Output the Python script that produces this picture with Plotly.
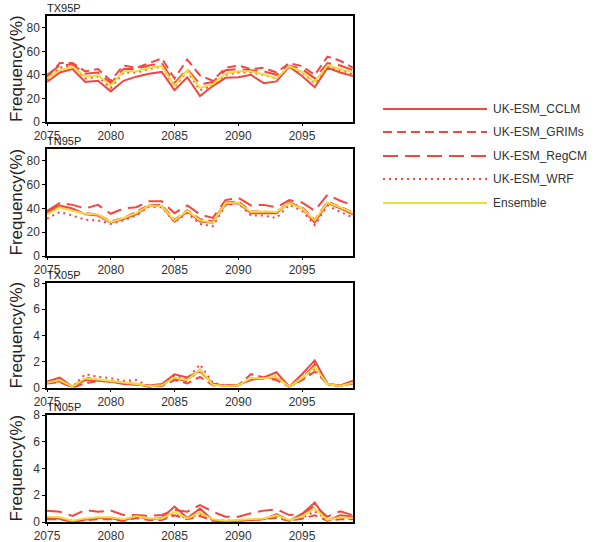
import plotly.graph_objects as go

years = list(range(2075, 2100))
series_names = ["UK-ESM_CCLM", "UK-ESM_GRIMs", "UK-ESM_RegCM", "UK-ESM_WRF", "Ensemble"]
panel_titles = ["TX95P", "TN95P", "TX05P", "TN05P"]
y_title = "Frequency(%)"

# TX95P
tx95_cclm = [34, 42, 45, 34, 35, 26, 35, 38.5, 41, 42.5, 27, 38, 22, 30.5, 37.5, 38, 40, 33, 34.5, 47, 39, 29.5, 46, 42, 39]
tx95_grims = [38, 50, 50, 43, 45, 35, 48, 46, 50, 54, 37, 53, 39.5, 35, 46, 48, 45, 46, 42, 50, 47.5, 40, 55.5, 52, 46]
tx95_regcm = [40, 48, 49, 41, 42, 33, 45, 45, 48, 50, 33, 45, 32, 34, 44, 45, 44, 43, 40, 48, 45, 37, 50, 48, 44]
tx95_wrf = [36, 46, 48, 37, 38.5, 29, 42, 42, 45, 47, 30, 43, 27, 31, 40, 42, 42, 40, 37, 47, 42, 33, 47, 44, 41]
tx95_ens = [37, 44, 47, 38.5, 39.5, 31, 43, 43, 46, 47.5, 31, 44, 29, 32, 41, 43, 43, 40.5, 37, 47.5, 42.5, 34, 48, 45, 42]

# TN95P
tn95_cclm = [37, 42.5, 40, 35, 34, 28, 31, 35, 42.5, 42, 29, 37.5, 29, 28, 43.5, 44.5, 36, 36, 36, 45, 40, 28, 44.5, 40, 35]
tn95_grims = [36, 41.5, 38.5, 36, 35, 29, 32, 37, 43, 43, 30.5, 38.5, 31, 29, 45, 46, 37.5, 37.5, 37, 45, 41, 30.5, 45.5, 41.5, 36.5]
tn95_regcm = [38, 44.5, 43, 40, 43, 35.5, 40, 41, 46, 46, 36, 42.5, 35, 32, 47, 49, 42.5, 43, 41, 47, 45, 38, 51.5, 46.5, 42.5]
tn95_wrf = [31.5, 37, 34, 30.5, 30, 27, 30, 34, 41.5, 41, 28.5, 36, 27, 25, 42.5, 44.5, 34, 34, 32, 43, 38, 26, 42.5, 37, 32.5]
tn95_ens = [35, 41, 38, 35.5, 35, 28.5, 32, 36, 42.5, 42, 30, 38, 30, 28, 44.5, 45, 37, 37.5, 37, 44.5, 40, 30, 45, 41, 36]

# TX05P
tx05_cclm = [0.5, 0.8, 0.1, 0.6, 0.55, 0.5, 0.3, 0.25, 0.2, 0.3, 1.05, 0.8, 1.3, 0.3, 0.2, 0.25, 0.6, 0.8, 1.2, 0.1, 1.05, 2.1, 0.3, 0.2, 0.55]
tx05_grims = [0.35, 0.45, 0.05, 0.35, 0.55, 0.5, 0.4, 0.3, 0.1, 0.15, 0.6, 0.35, 0.85, 0.2, 0.15, 0.2, 1.05, 0.8, 0.6, 0.1, 0.6, 1.25, 0.35, 0.15, 0.35]
tx05_regcm = [0.45, 0.5, 0.1, 0.8, 0.6, 0.5, 0.35, 0.3, 0.15, 0.2, 0.75, 0.5, 1.4, 0.3, 0.15, 0.2, 0.7, 0.7, 0.8, 0.1, 0.7, 1.8, 0.3, 0.15, 0.45]
tx05_wrf = [0.4, 0.65, 0.1, 1.05, 0.85, 0.75, 0.55, 0.6, 0.15, 0.2, 0.9, 0.7, 1.8, 0.4, 0.2, 0.2, 0.7, 0.7, 0.9, 0.1, 0.7, 1.5, 0.25, 0.15, 0.4]
tx05_ens = [0.4, 0.6, 0.1, 0.75, 0.65, 0.55, 0.4, 0.3, 0.15, 0.2, 0.8, 0.6, 1.4, 0.25, 0.15, 0.2, 0.75, 0.75, 0.85, 0.1, 0.75, 1.6, 0.3, 0.15, 0.4]

# TN05P
tn05_cclm = [0.3, 0.25, 0.05, 0.2, 0.3, 0.3, 0.1, 0.45, 0.2, 0.3, 1.15, 0.3, 1.0, 0.15, 0.05, 0.1, 0.15, 0.2, 0.6, 0.1, 0.6, 1.45, 0.1, 0.5, 0.4]
tn05_grims = [0.2, 0.2, 0.05, 0.15, 0.2, 0.2, 0.1, 0.3, 0.15, 0.15, 0.5, 0.2, 0.45, 0.1, 0.05, 0.1, 0.15, 0.2, 0.3, 0.1, 0.25, 0.5, 0.1, 0.2, 0.2]
tn05_regcm = [0.85, 0.77, 0.45, 0.9, 0.77, 0.85, 0.52, 0.52, 0.45, 0.52, 0.9, 0.77, 1.27, 0.77, 0.4, 0.4, 0.65, 0.85, 0.95, 0.52, 0.6, 1.2, 0.4, 0.8, 0.5]
tn05_wrf = [0.3, 0.3, 0.1, 0.25, 0.3, 0.3, 0.2, 0.4, 0.25, 0.2, 0.6, 0.25, 0.6, 0.15, 0.1, 0.1, 0.15, 0.2, 0.4, 0.1, 0.3, 0.8, 0.15, 0.3, 0.25]
tn05_ens = [0.4, 0.35, 0.1, 0.27, 0.35, 0.35, 0.2, 0.45, 0.27, 0.27, 0.75, 0.27, 0.7, 0.2, 0.1, 0.15, 0.2, 0.27, 0.5, 0.15, 0.4, 1.0, 0.15, 0.35, 0.3]

x_ticks = [2075, 2080, 2085, 2090, 2095]
y_ranges = [[0, 90], [0, 90], [0, 8], [0, 8]]
y_ticks = [[0, 20, 40, 60, 80], [0, 20, 40, 60, 80], [0, 2, 4, 6, 8], [0, 2, 4, 6, 8]]

panels = [
    [tx95_cclm, tx95_grims, tx95_regcm, tx95_wrf, tx95_ens],
    [tn95_cclm, tn95_grims, tn95_regcm, tn95_wrf, tn95_ens],
    [tx05_cclm, tx05_grims, tx05_regcm, tx05_wrf, tx05_ens],
    [tn05_cclm, tn05_grims, tn05_regcm, tn05_wrf, tn05_ens],
]

RED = "#F24641"
YEL = "#F2DC3A"
styles = [
    dict(color=RED, width=2, dash="solid"),
    dict(color=RED, width=2, dash="9px,5px"),
    dict(color=RED, width=2, dash="15px,7px"),
    dict(color=RED, width=2, dash="2px,4px"),
    dict(color=YEL, width=2, dash="solid"),
]

W, H = 598, 542
ml, mt = 47, 16
plot_right, plot_bottom = 353, 522
mr, mb = W - plot_right, H - plot_bottom
ph = H - mt - mb
pw = W - ml - mr
def py(px):
    return (plot_bottom - px) / ph
def pxx(px):
    return (px - ml) / pw

domains = [[py(122), py(16)], [py(256), py(149)], [py(388), py(283)], [py(522), py(415)]]

fig = go.Figure()
font_fam = "Liberation Sans, Arial, sans-serif"
for i, data in enumerate(panels):
    xa = "x" if i == 0 else f"x{i+1}"
    ya = "y" if i == 0 else f"y{i+1}"
    for j, vals in enumerate(data):
        fig.add_trace(go.Scatter(x=years, y=vals, mode="lines", name=series_names[j],
                                 line=styles[j], xaxis=xa, yaxis=ya, showlegend=False))
    axkey = "" if i == 0 else str(i + 1)
    fig.layout["xaxis" + axkey] = dict(
        domain=[0, 1], anchor=ya, range=[2075, 2099], tickvals=x_ticks, automargin=False,
        showline=True, mirror=True, linecolor="black", linewidth=1.5,
        ticks="outside", ticklen=2, tickcolor="black", showgrid=False, zeroline=False,
        tickfont=dict(size=12, color="#333", family=font_fam))
    fig.layout["yaxis" + axkey] = dict(
        domain=domains[i], anchor=xa, range=y_ranges[i], tickvals=y_ticks[i], automargin=False,
        showline=True, mirror=True, linecolor="black", linewidth=1.5,
        ticks="outside", ticklen=3, tickcolor="black", showgrid=False, zeroline=False,
        tickfont=dict(size=12, color="#333", family=font_fam))
    fig.add_annotation(text=y_title, xref="paper", yref=ya + " domain",
                       x=pxx(16), y=0.5, xanchor="center", yanchor="middle", textangle=-90,
                       showarrow=False, font=dict(size=17, color="#222", family=font_fam))
    fig.add_annotation(text=panel_titles[i], xref=xa + " domain", yref=ya + " domain",
                       x=0, y=1, xanchor="left", yanchor="bottom", showarrow=False,
                       font=dict(size=11, color="#222", family=font_fam), xshift=-2, yshift=0)

# legend drawn manually
leg_rows = [109, 132, 156, 179, 203]
for j, name in enumerate(series_names):
    yy = py(leg_rows[j])
    st = styles[j]
    fig.add_shape(type="line", xref="paper", yref="paper", x0=pxx(383), x1=pxx(487), y0=yy, y1=yy,
                  line=dict(color=st["color"], width=st["width"], dash=st["dash"]))
    fig.add_annotation(text=name, xref="paper", yref="paper", x=pxx(491), y=yy,
                       xanchor="left", yanchor="middle", showarrow=False,
                       font=dict(size=12, color="#333", family=font_fam))

fig.update_layout(width=W, height=H, margin=dict(l=ml, r=mr, t=mt, b=mb, autoexpand=False),
                  plot_bgcolor="white", paper_bgcolor="white", showlegend=False)
fig.write_html("out.html", config={"displayModeBar": False},
               post_script="document.body.style.margin='0';document.body.style.overflow='hidden';")
